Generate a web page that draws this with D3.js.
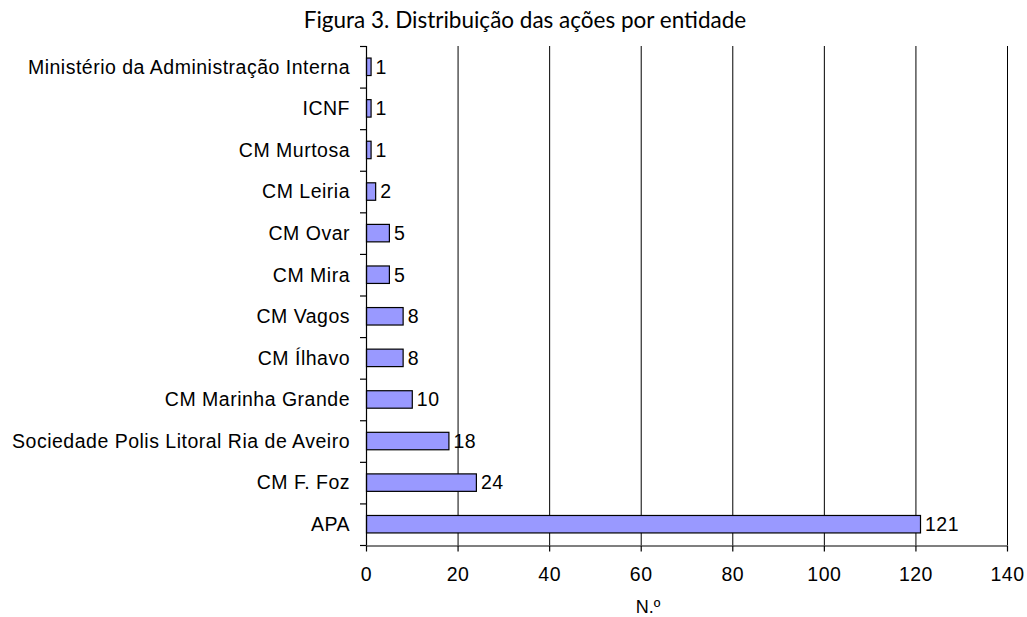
<!DOCTYPE html>
<html><head><meta charset="utf-8">
<script src="https://cdn.jsdelivr.net/npm/d3@7"></script>
<style>body{margin:0;background:#fff}svg{display:block}</style>
</head><body>
<script>
const categories = ["Ministério da Administração Interna","ICNF","CM Murtosa","CM Leiria","CM Ovar","CM Mira","CM Vagos","CM Ílhavo","CM Marinha Grande","Sociedade Polis Litoral Ria de Aveiro","CM F. Foz","APA"];
const values = [1,1,1,2,5,5,8,8,10,18,24,121];
const xTicks = [0,20,40,60,80,100,120,140];
const titleText = "Figura 3. Distribuição das ações por entidade";
const xLabel = "N.º";

(function(){
const W = 1027, H = 617;
const mL = 366, mR = 1007, mT = 46, mB = 545;
const FF = "'Liberation Sans', Arial, sans-serif";
const FS = 19.5;
const LS = "0.5px";
const svg = d3.select("body").append("svg").attr("width", W).attr("height", H);
const x = d3.scaleLinear().domain([0,140]).range([mL, mR]);
const y = d3.scaleBand().domain(categories).range([mT, mB]).paddingInner(0.58).paddingOuter(0.29);
const yb = d3.scaleBand().domain(categories).range([mT, mB]);

svg.append("text").attr("x", 525).attr("y", 28).attr("text-anchor","middle")
  .attr("font-family","'Lato','Noto Sans',sans-serif").attr("font-size",22.5).attr("fill","#000").text(titleText);

svg.append("g").selectAll("line").data(xTicks.slice(1)).join("line")
  .attr("x1", d=>x(d)+0.5).attr("x2", d=>x(d)+0.5).attr("y1", mT).attr("y2", mB)
  .attr("stroke","#000").attr("stroke-width",1);

svg.append("g").selectAll("rect").data(values).join("rect")
  .attr("x", x(0)+0.5).attr("y", (d,i)=>y(categories[i]))
  .attr("width", d=>x(d)-x(0)).attr("height", y.bandwidth())
  .attr("fill","#9999FF").attr("stroke","#000").attr("stroke-width",1.2);

svg.append("g").selectAll("text").data(values).join("text")
  .attr("x", d=>x(d)+5).attr("y",(d,i)=>y(categories[i])+y.bandwidth()/2)
  .attr("dy","0.35em").attr("font-family",FF).attr("font-size",FS).attr("letter-spacing",LS)
  .text(d=>d);

const ya = svg.append("g");
ya.append("line").attr("x1",mL+0.5).attr("x2",mL+0.5).attr("y1",mT).attr("y2",mB).attr("stroke","#000").attr("stroke-width",1.2);
const bounds = categories.map(c=>yb(c)).concat([mB]);
ya.selectAll("line.tk").data(bounds).join("line").attr("class","tk")
  .attr("x1",mL-6).attr("x2",mL+0.5).attr("y1",d=>d+0.5).attr("y2",d=>d+0.5).attr("stroke","#000").attr("stroke-width",1.2);
ya.selectAll("text").data(categories).join("text")
  .attr("x", mL-16).attr("y", d=>yb(d)+yb.bandwidth()/2).attr("dy","0.35em").attr("text-anchor","end")
  .attr("font-family",FF).attr("font-size",FS).attr("letter-spacing",LS).attr("fill","#000").text(d=>d);

const xa = svg.append("g").attr("transform",`translate(0,${mB+0.5})`)
  .call(d3.axisBottom(x).tickValues(xTicks).tickSize(6).tickPadding(16).tickSizeOuter(0));
xa.select(".domain").attr("stroke","#000").attr("stroke-width",1.2);
xa.selectAll(".tick line").attr("stroke","#000").attr("stroke-width",1.2);
xa.selectAll("text").attr("font-family",FF).attr("font-size",FS).attr("letter-spacing",LS).attr("fill","#000");

svg.append("text").attr("x", 648).attr("y", 613).attr("text-anchor","middle")
  .attr("font-family",FF).attr("font-size",18).text(xLabel);
})();
</script>
</body></html>
